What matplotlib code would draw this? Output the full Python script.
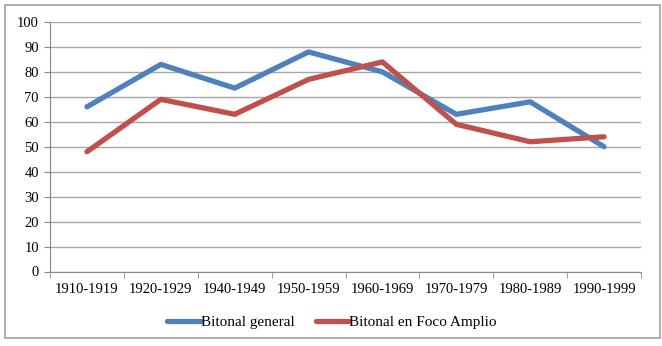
import matplotlib.pyplot as plt
from matplotlib.patches import Rectangle

# Datos
decadas = ["1910-1919", "1920-1929", "1940-1949", "1950-1959",
           "1960-1969", "1970-1979", "1980-1989", "1990-1999"]
bitonal_general = [66, 83, 73.5, 88, 80, 63, 68, 50]
bitonal_foco_amplio = [48, 69, 63, 77, 84, 59, 52, 54]

plt.rcParams['font.family'] = ['Liberation Serif', 'DejaVu Serif']

fig = plt.figure(figsize=(6.62, 3.46), dpi=100)
ax = fig.add_axes([50/662, 1 - 271.5/346, 591/662, 249.5/346])

x = list(range(len(decadas)))
ax.plot(x, bitonal_general, color='#4F81BD', lw=3.8, label='Bitonal general',
        solid_capstyle='round', solid_joinstyle='round', zorder=3)
ax.plot(x, bitonal_foco_amplio, color='#C0504D', lw=3.8, label='Bitonal en Foco Amplio',
        solid_capstyle='round', solid_joinstyle='round', zorder=3)

ax.set_xlim(-0.5, len(decadas) - 0.5)
ax.set_ylim(0, 100)
ax.set_yticks(range(0, 101, 10))
ax.set_xticks(x)
ax.set_xticklabels(decadas, fontsize=10.5)
ax.set_xticks([i - 0.5 for i in range(len(decadas) + 1)], minor=True)
ax.tick_params(axis='x', which='major', length=0, pad=8)
ax.tick_params(axis='x', which='minor', length=4, color='#888888', direction='out')
ax.tick_params(axis='y', length=4, color='#888888', labelsize=10.5, pad=4)

ax.grid(axis='y', color='#a6a6a6', lw=1)
ax.set_axisbelow(True)
for s in ['top', 'right']:
    ax.spines[s].set_visible(False)
for s in ['left', 'bottom']:
    ax.spines[s].set_color('#888888')

fig.legend(loc='center', bbox_to_anchor=(332/662, 1 - 322/346), ncol=2, frameon=False,
           fontsize=11, handlelength=2.2, handletextpad=0.0, columnspacing=1.4)

# Marco del gráfico
fig.patches.append(Rectangle((5/662, 1 - 338/346), 655/662, 333/346,
                             transform=fig.transFigure, fill=False,
                             edgecolor='#a0a0a0', lw=1.2))

fig.savefig('out.png', dpi=100)
